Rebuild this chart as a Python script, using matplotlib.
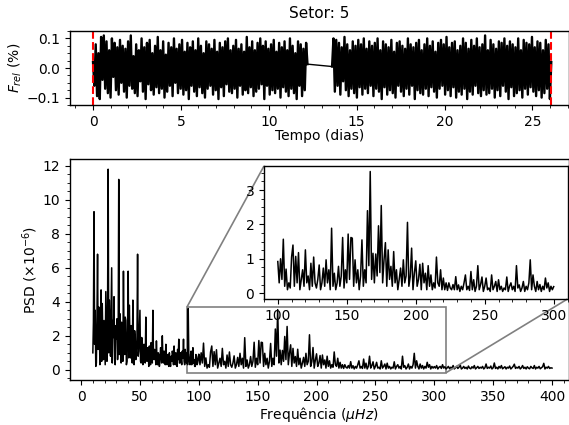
import numpy as np
import matplotlib
matplotlib.use('Agg')
import matplotlib.pyplot as plt
from matplotlib.ticker import MultipleLocator
from mpl_toolkits.axes_grid1.inset_locator import mark_inset

plt.rcParams['font.family'] = 'DejaVu Sans'
plt.rcParams['font.size'] = 10

# curva de luz (fluxo relativo em unidades de 0.001 %)
flux_seg1 = [
    20, -60, 80, -95, 50, -105, 105, -40, 110, -70, 90, -85, 60, -100, 100, -30,
    85, -75, 70, -90, 95, -50, 75, -80, 65, -100, 90, -60, 110, -70, 40, -85,
    80, -95, 60, -45, 100, -80, 70, -105, 85, -55, 95, -75, 50, -90, 75, -65,
    105, -85, 60, -70, 90, -100, 45, -80, 85, -60, 70, -95, 100, -50, 65, -85,
    80, -70, 95, -90, 55, -75, 85, -105, 70, -60, 90, -80, 60, -95, 100, -65,
    75, -85, 50, -100, 90, -70, 80, -60, 65, -90, 95, -75, 55, -105, 85, -65,
    70, -95, 90, -55, 100, -80, 60, -85, 75, -70, 95, -100, 65, -60, 80, -90,
    55, -75, 105, -85, 70, -65, 90, -95, 60, -80, 85, -70, 100, -55, 75, -105,
    90, -60, 65, -90, 80, -75, 95, -85, 55, -70, 85, -100, 70, -65, 90, -80,
    60, -95, 100, -70, 75, -85, 50, -105, 90, -60, 80, -95, 65, -75, 85, 13,
]
flux_seg2 = [
    5, 100, -80, 95, -60, 85, -90, 70, -45, 105, -75, 80, -95, 60, -70, 90,
    -85, 75, -100, 95, -65, 80, -90, 100, -70, 65, -85, 90, -60, 75, -95, 85,
    -70, 100, -80, 60, -105, 90, -65, 80, -90, 70, -75, 95, -85, 55, -100, 85,
    -60, 90, -80, 75, -95, 65, -70, 100, -90, 80, -60, 70, -105, 85, -75, 95,
    -85, 60, -90, 80, -70, 100, -95, 75, -65, 90, -80, 55, -100, 85, -70, 95,
    -60, 80, -90, 105, -75, 70, -95, 85, -65, 90, -100, 60, -80, 75, -90, 100,
    -70, 85, -105, 65, -80, 95, -90, 75, -60, 100, -85, 70, -95, 80, -75, 110,
    -90, 60, -85, 95, -70, 80, -100, 65, -75, 90, -95, 85, -60, 100, -80, 75,
    -105, 90, -65, 80, -95, 70, -85, 100, -75, 60, -100, 95, -70, 85, -90, 80,
    -65, 105, -80, 70, -95, 90, -75, 85, -100, 60, -85, 95, -70, 80, -105, 20,
]
t_start, t_gap0, t_gap1, t_end = 0.0, 12.2, 13.6, 26.07

# PSD (x10^-6): passo de 0.5 uHz de 10 a 99.5 uHz
psd_low = [1.0, 2.8, 9.3, 1.5, 3.5, 0.2, 0.4, 3.0, 6.8, 1.2, 3.7, 2.5, 0.3, 2.2, 4.7, 0.5, 3.9, 1.8, 0.6, 2.9,
           1.6, 0.3, 4.6, 2.4, 0.5, 3.2, 11.8, 1.0, 4.1, 2.7, 0.8, 3.4, 6.0, 0.4, 2.9, 1.9, 4.3, 0.6, 0.3, 2.6,
           1.8, 3.0, 0.6, 1.4, 11.2, 0.9, 3.3, 2.0, 0.4, 2.8, 2.2, 0.5, 5.8, 1.6, 0.9, 3.1, 2.9, 0.3, 0.5, 2.4,
           5.8, 0.7, 3.8, 1.9, 0.7, 2.6, 2.5, 0.4, 4.1, 1.5, 0.3, 2.3, 1.8, 0.6, 0.9, 2.0, 6.8, 0.8, 1.1, 2.2,
           3.5, 0.5, 0.4, 1.9, 1.6, 0.3, 0.8, 1.5, 1.2, 0.4, 3.1, 0.7, 0.5, 1.3, 1.2, 0.2, 1.4, 0.9, 0.3, 1.6,
           1.1, 0.4, 3.5, 0.8, 0.6, 1.2, 1.0, 0.3, 1.7, 0.6, 0.3, 1.0, 0.9, 0.2, 0.5, 1.3, 1.2, 0.4, 2.0, 0.7,
           0.4, 1.1, 0.8, 0.3, 1.5, 0.6, 0.3, 0.9, 0.6, 0.2, 1.0, 0.5, 0.2, 0.8, 0.5, 1.1, 0.9, 0.3, 1.4, 0.6,
           0.3, 1.0, 0.7, 0.2, 1.2, 0.6, 1.8, 0.4, 0.4, 1.0, 0.6, 0.3, 1.1, 0.7, 1.8, 0.5, 0.3, 1.2, 0.8, 0.4,
           1.0, 0.3, 3.6, 0.8, 0.5, 0.3, 0.9, 1.1, 0.3, 0.6, 1.3, 0.4, 0.6, 0.2, 0.2, 0.9, 0.8, 0.3, 0.4, 0.7]
# passo de 1 uHz de 100 a 400 uHz
psd_100 = [0.92, 0.3, 1.0, 0.4, 1.57, 0.2, 0.7, 0.1, 0.3, 0.15,
           1.05, 1.4, 0.2, 1.07, 0.3, 1.18, 0.1, 0.4, 0.68, 0.2,
           1.26, 0.3, 0.5, 0.1, 0.87, 0.2, 1.05, 0.3, 0.15, 0.4,
           0.82, 0.1, 0.3, 0.73, 0.2, 0.97, 0.3, 0.68, 0.1, 1.89,
           0.2, 0.58, 0.1, 0.3, 0.78, 0.2, 0.5, 1.62, 0.15, 0.68,
           0.3, 1.72, 0.4, 1.62, 1.6, 0.2, 0.97, 0.3, 0.68, 0.1,
           0.5, 1.55, 0.2, 0.68, 0.3, 2.4, 0.8, 3.54, 0.4, 1.16,
           0.3, 1.14, 0.5, 1.96, 0.6, 2.55, 0.3, 0.97, 1.47, 0.2,
           1.26, 0.4, 0.78, 0.2, 1.21, 0.3, 0.68, 0.1, 0.4, 0.73,
           0.2, 0.97, 0.3, 0.5, 2.06, 0.2, 0.48, 1.31, 0.1, 0.58]
psd_200 = [0.94, 0.2, 0.4, 0.84, 0.1, 0.87, 0.3, 0.58, 0.1, 0.8,
           0.2, 0.53, 0.1, 0.3, 0.15, 1.05, 0.3, 0.2, 0.68, 0.1,
           0.44, 0.1, 0.3, 0.08, 0.3, 0.15, 0.1, 0.25, 0.1, 0.48,
           0.1, 0.24, 0.05, 0.2, 0.1, 0.3, 0.53, 0.1, 0.2, 0.08,
           0.63, 0.1, 0.39, 0.05, 0.2, 0.8, 0.1, 0.25, 0.47, 0.05,
           0.2, 0.44, 0.1, 0.15, 0.05, 0.53, 0.1, 0.2, 0.34, 0.05,
           0.39, 0.1, 0.2, 0.05, 0.15, 0.1, 0.47, 0.05, 0.2, 0.3,
           0.1, 0.2, 0.05, 0.8, 0.15, 0.24, 0.05, 0.15, 0.34, 0.05,
           0.2, 0.1, 0.3, 0.97, 0.1, 0.53, 0.2, 0.05, 0.34, 0.1,
           0.25, 0.05, 0.2, 0.1, 0.44, 0.15, 0.3, 0.05, 0.2, 0.1]
psd_300 = [0.19, 0.1, 0.25, 0.05, 0.15, 0.2, 0.08, 0.3, 0.1, 0.18, 0.05,
           0.12, 0.2, 0.06, 0.15, 0.1, 0.25, 0.05, 0.12, 0.2, 0.08,
           0.15, 0.29, 0.05, 0.1, 0.2, 0.08, 0.15, 0.05, 0.22, 0.1,
           0.06, 0.18, 0.1, 0.25, 0.05, 0.12, 0.2, 0.08, 0.15, 0.1,
           0.2, 0.05, 0.12, 0.34, 0.08, 0.15, 0.1, 0.22, 0.05, 0.12,
           0.4, 0.08, 0.15, 0.05, 0.2, 0.1, 0.25, 0.06, 0.12, 0.18,
           0.05, 0.15, 0.1, 0.22, 0.05, 0.12, 0.2, 0.33, 0.08, 0.15,
           0.1, 0.2, 0.05, 0.12, 0.25, 0.08, 0.15, 0.05, 0.18, 0.1,
           0.06, 0.2, 0.12, 0.08, 0.25, 0.05, 0.15, 0.1, 0.2, 0.06,
           0.12, 0.18, 0.38, 0.05, 0.15, 0.1, 0.2, 0.08, 0.12, 0.1]

psd_high = psd_100 + psd_200 + psd_300
freq = np.concatenate([np.arange(len(psd_low)) * 0.5 + 10,
                       np.arange(len(psd_high)) + 100])
psd = np.array(psd_low + psd_high)

t1 = np.linspace(t_start, t_gap0, len(flux_seg1))
t2 = np.linspace(t_gap1, t_end, len(flux_seg2))
f1 = np.array(flux_seg1) * 0.001
f2 = np.array(flux_seg2) * 0.001

fig = plt.figure(figsize=(5.69, 4.25), dpi=100)

ax1 = fig.add_axes([70 / 569, 1 - 105 / 425, 498.5 / 569, 74 / 425])
ax1.plot(t1, f1, 'k', linewidth=1.7)
ax1.plot(t2, f2, 'k', linewidth=1.7)
# trecho que liga os dois lados do intervalo sem dados
ax1.plot([t1[-1], t2[0]], [f1[-1], f2[0]], 'k', linewidth=1)
ax1.axvline(t_start, color='red', linestyle='--', linewidth=1.5)
ax1.axvline(t_end, color='red', linestyle='--', linewidth=1.5)
ax1.set_xlim(-1.31, 27.05)
ax1.set_ylim(-0.125, 0.125)
ax1.xaxis.set_major_locator(MultipleLocator(5))
ax1.xaxis.set_minor_locator(MultipleLocator(1))
ax1.yaxis.set_major_locator(MultipleLocator(0.1))
ax1.yaxis.set_minor_locator(MultipleLocator(0.025))
ax1.set_xlabel('Tempo (dias)', labelpad=0)
ax1.set_ylabel('$F_{rel}$ (%)', labelpad=2)
ax1.set_title('Setor: 5', fontsize=11, pad=9)

ax2 = fig.add_axes([70 / 569, 1 - 380 / 425, 498.5 / 569, 221 / 425])
ax2.plot(freq, psd, 'k', linewidth=1.1)
ax2.set_xlim(-9.4, 414)
ax2.set_ylim(-0.6, 12.4)
ax2.xaxis.set_major_locator(MultipleLocator(50))
ax2.xaxis.set_minor_locator(MultipleLocator(10))
ax2.yaxis.set_major_locator(MultipleLocator(2))
ax2.yaxis.set_minor_locator(MultipleLocator(0.5))
ax2.set_xlabel('Frequência ($\\mu Hz$)', labelpad=1)
ax2.set_ylabel('PSD ($\\times10^{-6}$)', labelpad=2)

axins = fig.add_axes([264 / 569, 1 - 299 / 425, 303.5 / 569, 133 / 425])
sel = (freq >= 100) & (freq <= 300)
axins.plot(freq[sel], psd[sel], 'k', linewidth=1.1)
axins.set_xlim(90, 310)
axins.set_ylim(-0.17, 3.7)
axins.xaxis.set_major_locator(MultipleLocator(50))
axins.xaxis.set_minor_locator(MultipleLocator(10))
axins.yaxis.set_major_locator(MultipleLocator(1))
axins.yaxis.set_minor_locator(MultipleLocator(0.25))
mark_inset(ax2, axins, loc1=2, loc2=4, fc='none', ec='0.5', lw=1.2)

for ax in (ax1, ax2, axins):
    ax.tick_params(which='both', direction='out', top=False, right=False)
    ax.tick_params(which='minor', length=2)
    for s in ax.spines.values():
        s.set_linewidth(1.0)

fig.savefig('out.png', dpi=100)
